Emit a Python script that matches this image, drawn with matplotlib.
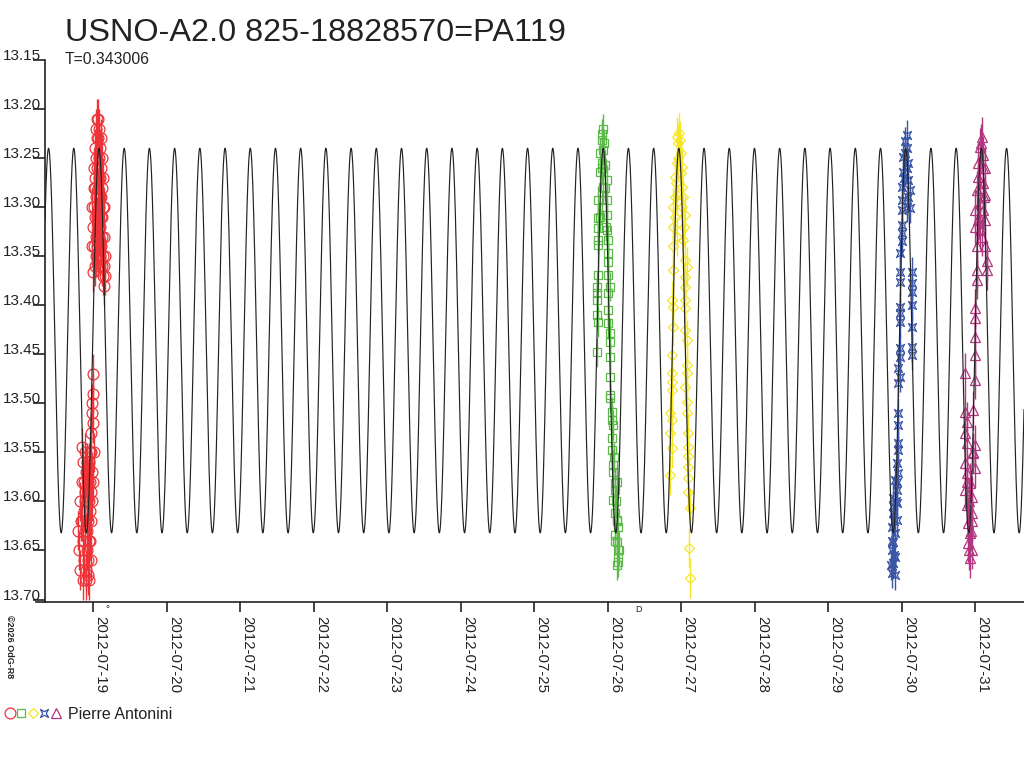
import numpy as np
import matplotlib
matplotlib.use("Agg")
import matplotlib.pyplot as plt
from matplotlib.path import Path
from matplotlib.lines import Line2D

plt.rcParams['font.family'] = ['Liberation Sans', 'DejaVu Sans']

# Light-curve model (period from the chart, other parameters).
period = 0.343006
epoch = 19.0776      # July day of a brightness maximum
meanMag = 13.436
amplitude = 0.196

# Observations, times as day of July 2012.
redDays = [18.819, 18.833, 18.846, 18.846, 18.860, 18.860, 18.873, 18.873, 18.887, 18.887,
           18.901, 18.901, 18.914, 18.914, 18.928, 18.928, 18.941, 18.941, 18.955, 18.955,
           18.969, 18.969, 18.982, 18.982, 18.996, 18.996, 18.996, 18.982, 18.969, 18.901,
           18.928, 18.792, 18.806, 18.819, 18.846, 18.873, 18.887, 18.914, 18.928, 18.941,
           18.955, 18.969, 18.982, 18.996, 19.010, 18.860, 18.914, 18.941, 18.887, 18.955,
           18.969,
           18.996, 19.010, 19.010, 19.023, 19.023, 19.023, 19.037, 19.037, 19.037, 19.050,
           19.050, 19.050, 19.064, 19.064, 19.064, 19.078, 19.078, 19.078, 19.091, 19.091,
           19.091, 19.105, 19.105, 19.105, 19.118, 19.118, 19.118, 19.132, 19.132, 19.132,
           19.146, 19.146, 18.996, 18.982, 19.010, 19.023, 19.037, 19.050, 19.064, 19.078,
           19.091, 19.105, 19.118, 19.132, 19.146, 19.159, 19.023, 19.050, 19.078, 19.105,
           19.064, 19.091, 19.037, 18.982, 19.010, 19.118, 19.146, 19.159]
redMags = [13.600, 13.620, 13.580, 13.545, 13.640, 13.560, 13.610, 13.660, 13.590, 13.630,
           13.570, 13.670, 13.600, 13.650, 13.620, 13.580, 13.560, 13.640, 13.610, 13.550,
           13.590, 13.530, 13.570, 13.510, 13.490, 13.470, 13.520, 13.500, 13.550, 13.680,
           13.675, 13.630, 13.650, 13.670, 13.620, 13.580, 13.550, 13.560, 13.660, 13.600,
           13.640, 13.620, 13.600, 13.580, 13.550, 13.680, 13.630, 13.680, 13.600, 13.580,
           13.660,
           13.320, 13.300, 13.340, 13.270, 13.240, 13.360, 13.220, 13.290, 13.330, 13.210,
           13.260, 13.310, 13.230, 13.280, 13.350, 13.250, 13.300, 13.220, 13.270, 13.320,
           13.240, 13.290, 13.340, 13.260, 13.280, 13.310, 13.330, 13.300, 13.350, 13.370,
           13.360, 13.380, 13.366, 13.300, 13.260, 13.310, 13.250, 13.230, 13.210, 13.270,
           13.290, 13.310, 13.250, 13.270, 13.330, 13.350, 13.280, 13.340, 13.330, 13.230,
           13.310, 13.350, 13.350, 13.340, 13.280, 13.360, 13.300, 13.370]

greenDays = [25.939, 25.917, 25.935, 25.894, 25.917, 25.962, 25.894, 25.985, 25.935, 25.866,
             25.985, 25.917, 25.985, 25.866, 25.866, 25.985, 25.866, 26.003, 25.866, 26.003,
             26.003, 25.866, 26.003, 25.848, 26.030, 25.848, 26.003, 25.848, 26.003, 25.848,
             25.866, 26.003, 26.030, 26.030, 25.848, 26.030, 26.030, 26.030, 26.030, 26.053,
             26.053, 26.075, 26.053, 26.053, 26.075, 26.075, 26.098, 26.098, 26.075, 26.098,
             26.121, 26.143, 26.098, 26.121, 26.143, 26.143, 26.143,
             25.917, 25.944, 25.926, 25.958, 25.900, 25.980, 26.110, 26.130, 26.100, 26.150,
             26.130, 26.120, 26.085]
greenMags = [13.220, 13.232, 13.242, 13.245, 13.255, 13.257, 13.264, 13.272, 13.279, 13.293,
             13.293, 13.300, 13.308, 13.311, 13.321, 13.323, 13.333, 13.333, 13.339, 13.347,
             13.356, 13.369, 13.369, 13.381, 13.381, 13.388, 13.388, 13.395, 13.405, 13.410,
             13.417, 13.418, 13.428, 13.437, 13.448, 13.453, 13.473, 13.491, 13.495, 13.509,
             13.517, 13.522, 13.535, 13.548, 13.563, 13.570, 13.581, 13.588, 13.599, 13.612,
             13.619, 13.626, 13.634, 13.641, 13.649, 13.657, 13.662,
             13.225, 13.235, 13.260, 13.280, 13.310, 13.320, 13.600, 13.620, 13.640, 13.650,
             13.665, 13.580, 13.555]

yellowDays = [26.969, 26.937, 26.992, 26.937, 27.005, 26.914, 27.005, 26.937, 27.027, 26.891,
              27.050, 26.914, 26.891, 26.937, 27.027, 26.891, 27.050, 27.073, 26.891, 27.050,
              27.050, 26.869, 27.050, 26.891, 27.050, 26.891, 27.050, 27.073, 26.869, 27.073,
              27.073, 26.869, 26.869, 27.050, 26.869, 27.073, 26.846, 27.073, 26.869, 26.846,
              27.095, 26.869, 27.095, 27.095, 27.095, 27.095, 26.846, 27.095, 27.118, 27.109,
              27.118, 26.960, 26.980, 26.950, 26.990, 26.930, 27.010, 26.920, 27.040]
yellowMags = [13.224, 13.228, 13.245, 13.255, 13.259, 13.269, 13.279, 13.288, 13.290, 13.300,
              13.308, 13.310, 13.320, 13.330, 13.333, 13.340, 13.354, 13.361, 13.364, 13.371,
              13.381, 13.395, 13.395, 13.402, 13.403, 13.422, 13.425, 13.435, 13.451, 13.461,
              13.469, 13.469, 13.478, 13.483, 13.486, 13.499, 13.510, 13.510, 13.517, 13.530,
              13.530, 13.546, 13.544, 13.554, 13.565, 13.576, 13.573, 13.590, 13.607, 13.647,
              13.678, 13.235, 13.232, 13.250, 13.265, 13.275, 13.300, 13.290, 13.320]

blueDays = [30.066, 30.043, 30.066, 30.020, 30.088, 30.020, 30.088, 29.998, 30.111, 29.998,
            30.066, 30.111, 29.998, 29.998, 29.998, 29.998, 29.975, 29.975, 30.134, 29.975,
            30.134, 30.134, 30.134, 29.975, 29.975, 29.975, 30.134, 30.134, 29.975, 30.134,
            29.975, 29.952, 29.975, 29.952, 29.952, 29.952, 29.952, 29.952, 29.930, 29.952,
            29.907, 29.930, 29.884, 29.930, 29.884, 29.930, 29.862, 29.907, 29.884, 29.862,
            29.907, 29.884, 29.862,
            29.870, 29.890, 29.860, 29.900, 29.920, 29.880, 29.940, 29.910, 30.050, 30.070,
            30.030, 30.080]
blueMags = [13.226, 13.233, 13.240, 13.249, 13.255, 13.264, 13.272, 13.279, 13.283, 13.293,
            13.300, 13.301, 13.303, 13.318, 13.326, 13.335, 13.347, 13.366, 13.366, 13.376,
            13.377, 13.386, 13.400, 13.402, 13.408, 13.417, 13.422, 13.443, 13.444, 13.451,
            13.453, 13.464, 13.473, 13.479, 13.510, 13.522, 13.540, 13.548, 13.561, 13.571,
            13.578, 13.588, 13.596, 13.602, 13.612, 13.619, 13.626, 13.632, 13.641, 13.649,
            13.657, 13.663, 13.673,
            13.640, 13.655, 13.665, 13.620, 13.600, 13.605, 13.580, 13.675, 13.245, 13.260,
            13.270, 13.290]

magentaDays = [31.087, 31.064, 31.109, 31.041, 31.132, 31.041, 31.109, 31.019, 31.132, 31.064,
               30.996, 31.109, 31.041, 31.132, 30.996, 31.064, 31.019, 31.132, 31.155, 31.155,
               31.019, 31.019, 30.996, 30.996, 30.996, 30.996, 30.860, 30.996, 30.973, 30.860,
               30.882, 30.860, 30.996, 30.882, 30.973, 30.860, 30.996, 30.882, 30.928, 30.860,
               30.950, 30.882, 30.950, 30.905, 30.928, 30.905, 30.950, 30.928,
               31.080, 31.100, 31.060, 31.120, 31.050, 31.090, 30.920, 30.940, 30.910, 30.960,
               30.890, 30.970]
magentaMags = [13.228, 13.239, 13.247, 13.255, 13.260, 13.269, 13.275, 13.283, 13.288, 13.296,
               13.303, 13.303, 13.313, 13.313, 13.320, 13.323, 13.340, 13.340, 13.355, 13.364,
               13.364, 13.374, 13.403, 13.413, 13.432, 13.451, 13.469, 13.476, 13.507, 13.509,
               13.519, 13.530, 13.542, 13.540, 13.551, 13.561, 13.566, 13.571, 13.581, 13.588,
               13.595, 13.604, 13.612, 13.622, 13.632, 13.642, 13.649, 13.658,
               13.235, 13.260, 13.280, 13.290, 13.310, 13.330, 13.600, 13.630, 13.650, 13.620,
               13.580, 13.550]

tickDays = list(range(19, 32))
tickLabels = ["2012-07-%02d" % d for d in tickDays]
yTicks = [13.15, 13.20, 13.25, 13.30, 13.35, 13.40, 13.45, 13.50, 13.55, 13.60, 13.65, 13.70]
yTickLabels = ["%.2f" % v for v in yTicks]

# Custom "square with concave sides" marker for the blue series.
starSquare = Path([(-1, -1), (0, -0.45), (1, -1), (0.45, 0), (1, 1), (0, 0.45),
                   (-1, 1), (-0.45, 0), (-1, -1)],
                  [Path.MOVETO] + [Path.LINETO] * 7 + [Path.CLOSEPOLY])

series = [
  (redDays, redMags, "#EE3338", "o", 7.8, 0.02),
  (greenDays, greenMags, "#5CB94A", "s", 5.8, 0.015),
  (yellowDays, yellowMags, "#F7E625", "D", 5.2, 0.02),
  (blueDays, blueMags, "#3B56A6", starSquare, 5.8, 0.015),
  (magentaDays, magentaMags, "#B2357F", "^", 6.8, 0.02),
]

W, H = 1024, 768
fig = plt.figure(figsize=(W / 100, H / 100), dpi=100)
ax = fig.add_axes([45 / W, (H - 602) / H, (W - 45) / W, (602 - 60) / H])

xMin, xMax = 18.343, 31.663
ax.set_xlim(xMin, xMax)
ax.set_ylim(13.7025, 13.15)

# Model curve drawn on top of the observations.
tModel = np.linspace(xMin, xMax, 8000)
mModel = meanMag - amplitude * np.cos(2 * np.pi * (tModel - epoch) / period)
ax.plot(tModel, mModel, color="#222222", lw=0.85, zorder=5)

for days, mags, color, marker, ms, err in series:
  ax.errorbar(days, mags, yerr=err, fmt="none", ecolor=color, elinewidth=1.0, zorder=2)
  ax.plot(days, mags, ls="none", marker=marker, mfc="none", mec=color, ms=ms, mew=0.9, zorder=3)

for side in ["top", "right"]:
  ax.spines[side].set_visible(False)
for side in ["left", "bottom"]:
  ax.spines[side].set_color("#222222")
  ax.spines[side].set_linewidth(1.2)

ax.set_xticks(tickDays, tickLabels, rotation=270, rotation_mode="anchor",
              ha="left", va="bottom", fontsize=10.8, color="#222222")
ax.tick_params(axis="x", length=7.2, width=1.2, pad=3.0, color="#222222")
ax.set_yticks(yTicks, yTickLabels, va="baseline", fontsize=11, color="#222222")
ax.tick_params(axis="y", length=8.6, width=1.2, pad=-5.5, color="#222222")

# Small piece of x axis line that reaches past the y axis.
fig.add_artist(Line2D([36 / W, 45 / W], [(H - 602) / H] * 2, color="#222222", lw=1.2))

fig.text(65 / W, 1 - 41 / H, "USNO-A2.0 825-18828570=PA119", fontsize=23.3,
         color="#222222", va="baseline")
fig.text(65 / W, 1 - 64 / H, "T=0.343006", fontsize=11.3, color="#222222", va="baseline")
fig.text(5 / W, 1 - 615 / H, "\u00a92026 OdG-R8", fontsize=6.5, fontweight="bold",
         color="#222222", rotation=270, rotation_mode="anchor", ha="left", va="bottom")
fig.text(635 / W, 1 - 612 / H, "D", fontsize=6.5, color="#222222")
fig.text(105 / W, 1 - 612 / H, "\u00b0", fontsize=7, color="#222222")

# Observer legend row at the bottom.
legendX = [10, 21, 33, 44, 56]
legendY = 1 - 713 / H
for lx, (days, mags, color, marker, ms, err) in zip(legendX, series):
  fig.add_artist(Line2D([lx / W], [legendY], ls="none", marker=marker, mfc="none",
                        mec=color, ms=ms, mew=0.9))
fig.text(68 / W, 1 - 719 / H, "Pierre Antonini", fontsize=11.5, color="#222222", va="baseline")

fig.savefig("out.png", dpi=100)
